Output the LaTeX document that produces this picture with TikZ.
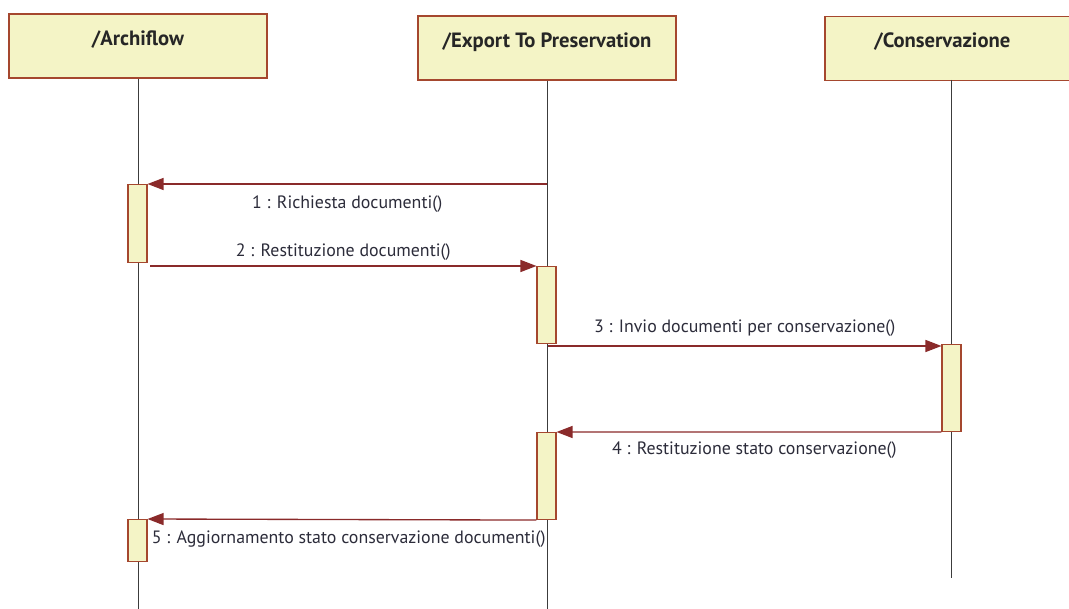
\documentclass[tikz,border=0pt]{standalone}
\usepackage{fontspec}
\setmainfont{PT Sans}
\usetikzlibrary{arrows.meta,positioning,calc}
\definecolor{boxfill}{HTML}{F4F4C6}
\definecolor{boxedge}{HTML}{A5472E}
\definecolor{msgred}{HTML}{8A2A2A}
\definecolor{lblgray}{HTML}{2C2C3A}
\definecolor{lifegray}{HTML}{3C3C3C}
\tikzset{
  headbox/.style = {draw=boxedge, fill=boxfill, line width=0.9pt, rectangle,
                    inner sep=0pt, minimum height=48pt, text height=11pt,
                    text depth=12pt, font=\bfseries\fontsize{15.5}{17}\selectfont,
                    text=black!85},
  actbox/.style  = {draw=boxedge, fill=boxfill, line width=0.8pt, rectangle,
                    inner sep=0pt, minimum width=14.25pt, anchor=north},
  lifeline/.style= {draw=lifegray, line width=0.75pt},
  msg/.style     = {draw=msgred, line width=1pt,
                    -{Triangle[length=12pt,width=9pt]}, msgred},
  msglbl/.style  = {text=lblgray, inner sep=0pt,
                    font=\fontsize{13.4}{15}\selectfont},
}

\begin{document}
\begin{tikzpicture}[x=0.75pt,y=-0.75pt]
\useasboundingbox (0,0) rectangle (1069,609);
\clip (0,0) rectangle (1069,609);
% objects
\node[headbox, minimum width=193.5pt] (arch) at (138,46) {/Archiflow};
\node[headbox, minimum width=193.5pt] (exp)  at (547,48) {/Export To Preservation};
\node[headbox, minimum width=187.5pt, text width=187.5pt, align=left] (cons) at (950,48.5) {\hspace*{37pt}/Conservazione};
% lifelines
\coordinate (archEnd) at (arch.south |- 0,609);
\coordinate (expEnd)  at (exp.south |- 0,609);
\coordinate (consTop) at (951,80);
\coordinate (consEnd) at (951,578);
\draw[lifeline] (arch.south) -- (archEnd);
\draw[lifeline] (exp.south) -- (expEnd);
\draw[lifeline] (consTop) -- (consEnd);
% activations
\node[actbox, minimum height=58.5pt] (actA1) at (137.5,184) {};
\node[actbox, minimum height=57.75pt] (actE1) at (546.5,266) {};
\node[actbox, minimum height=65.25pt] (actC1) at (951.5,344) {};
\node[actbox, minimum height=65.25pt] (actE2) at (546.5,432) {};
\node[actbox, minimum height=31.5pt] (actA2) at (137.5,519) {};
% messages
\coordinate (m1) at (547,184);
\coordinate (m2) at (150,266);
\coordinate (m3) at (548,346);
\draw[msg] (m1) -- node[msglbl, below=8pt, midway] {1 : Richiesta documenti()} (actA1.north east);
\draw[msg] (m2) -- node[msglbl, above=4pt, midway] {2 : Restituzione documenti()} (actE1.north west);
\draw[msg] (m3) -- node[msglbl, above=7pt, midway] {3 : Invio documenti per conservazione()} (m3 -| actC1.west);
\draw[msg] (actC1.south west) -- node[msglbl, below=7pt, midway, xshift=4pt] {4 : Restituzione stato conservazione()} (actE2.north east);
\draw[msg] (actE2.south west) -- node[msglbl, below=8pt, midway, xshift=5pt] {5 : Aggiornamento stato conservazione documenti()} (actA2.north east);
\end{tikzpicture}
\end{document}
